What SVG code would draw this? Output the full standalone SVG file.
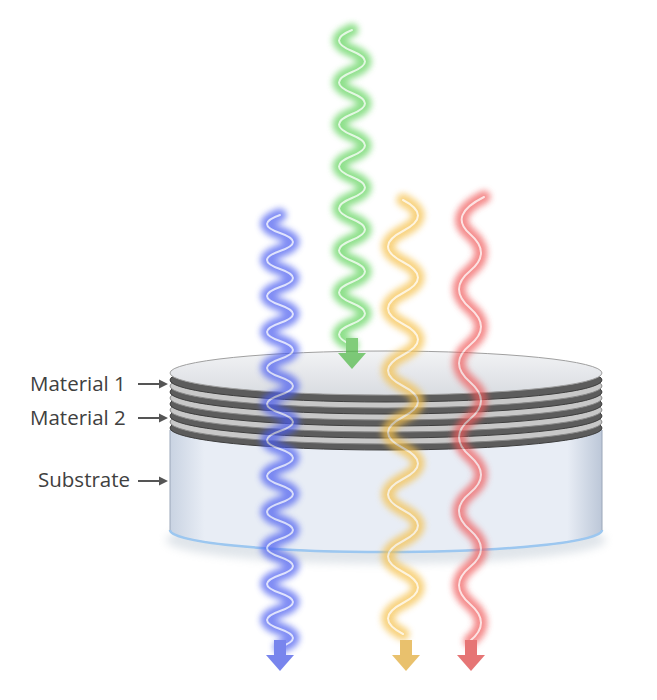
<svg xmlns="http://www.w3.org/2000/svg" width="657" height="700" viewBox="0 0 657 700">
<defs>
<filter id="blur" x="-50%" y="-10%" width="200%" height="120%"><feGaussianBlur stdDeviation="3"/></filter>
<filter id="sh" x="-10%" y="-30%" width="120%" height="160%"><feGaussianBlur stdDeviation="4"/></filter>
<linearGradient id="sub" x1="0" y1="0" x2="1" y2="0">
<stop offset="0" stop-color="#c9d3e2"/><stop offset="0.08" stop-color="#e8edf5"/><stop offset="0.92" stop-color="#e8edf5"/><stop offset="1" stop-color="#bcc7d8"/></linearGradient>
<linearGradient id="top" x1="0" y1="0" x2="0" y2="1"><stop offset="0" stop-color="#f2f3f5"/><stop offset="1" stop-color="#d9dce1"/></linearGradient>
<path id="ah" d="M-6 0h12v15h8l-14 16l-14-16h8z"/>
</defs>
<style>
.lbl{font-family:"Open Sans","Liberation Sans",sans-serif;font-size:20.5px;fill:#404040}
.ar{stroke:#555;stroke-width:2;fill:none}
.dk{fill:#5c5c5c;stroke:#3e3e3e;stroke-width:1}
.lt{fill:#c8c8c8;stroke:#8a8a8a;stroke-width:1}
.glow{fill:none;stroke-width:13;filter:url(#blur);stroke-linecap:round}
.core{fill:none;stroke:#fff;stroke-width:2;opacity:0.75;stroke-linecap:round}
</style>
<g id="disk">
<ellipse cx="386" cy="540" rx="220" ry="24" fill="#9ab" opacity="0.3" filter="url(#sh)"/>
<path d="M170 430V530A216 22 0 0 0 602 530V430Z" fill="url(#sub)" stroke="#9aa6b8" stroke-width="1"/>
<path d="M170 530A216 22 0 0 0 602 530" fill="none" stroke="#9cc7f0" stroke-width="2.5"/>
<ellipse cx="386" cy="428" rx="216" ry="22" class="dk"/>
<ellipse cx="386" cy="422" rx="216" ry="22" class="lt"/>
<ellipse cx="386" cy="416" rx="216" ry="22" class="dk"/>
<ellipse cx="386" cy="410" rx="216" ry="22" class="lt"/>
<ellipse cx="386" cy="404" rx="216" ry="22" class="dk"/>
<ellipse cx="386" cy="398" rx="216" ry="22" class="lt"/>
<ellipse cx="386" cy="392" rx="216" ry="22" class="dk"/>
<ellipse cx="386" cy="386" rx="216" ry="22" class="lt"/>
<ellipse cx="386" cy="380" rx="216" ry="22" class="dk"/>
<ellipse cx="386" cy="373" rx="216" ry="22" fill="url(#top)" stroke="#a0a0a0" stroke-width="1"/>
</g>
<g id="labels">
<text class="lbl" x="30" y="391">Material 1</text>
<text class="lbl" x="30" y="425">Material 2</text>
<text class="lbl" x="38" y="487">Substrate</text>
</g>
<g id="connectors">
<path class="ar" d="M138 384H160M138 418H160M138 481H160"/>
<path d="M168 384l-9-4.5v9zM168 418l-9-4.5v9zM168 481l-9-4.5v9z" fill="#555"/>
</g>
<g id="blue" opacity="0.7">
<path class="glow" stroke="#4a5cf0" d="M280 215 q-26 9 0 18 t0 18 t0 18 t0 18 t0 18 t0 18 t0 18 t0 18 t0 18 t0 18 t0 18 t0 18 t0 18 t0 18 t0 18 t0 18 t0 18 t0 18 t0 18 t0 18 t0 18 t0 18 t0 18 t0 18"/>
<path class="core" d="M280 215 q-26 9 0 18 t0 18 t0 18 t0 18 t0 18 t0 18 t0 18 t0 18 t0 18 t0 18 t0 18 t0 18 t0 18 t0 18 t0 18 t0 18 t0 18 t0 18 t0 18 t0 18 t0 18 t0 18 t0 18 t0 18"/>
<use href="#ah" x="280" y="640" fill="#3f52e6"/>
</g>
<g id="green" opacity="0.7">
<path class="glow" stroke="#5ed35a" d="M352 30 q-26 10.5 0 21 t0 21 t0 21 t0 21 t0 21 t0 21 t0 21 t0 21 t0 21 t0 21 t0 21 t0 21 t0 21 t0 21 t0 21"/>
<path class="core" d="M352 30 q-26 10.5 0 21 t0 21 t0 21 t0 21 t0 21 t0 21 t0 21 t0 21 t0 21 t0 21 t0 21 t0 21 t0 21 t0 21 t0 21"/>
<use href="#ah" x="352" y="338" fill="#4cb843"/>
</g>
<g id="yellow" opacity="0.7">
<path class="glow" stroke="#f5c04a" d="M403 200 q30 15.5 0 31 t0 31 t0 31 t0 31 t0 31 t0 31 t0 31 t0 31 t0 31 t0 31 t0 31 t0 31 t0 31 t0 31"/>
<path class="core" d="M403 200 q30 15.5 0 31 t0 31 t0 31 t0 31 t0 31 t0 31 t0 31 t0 31 t0 31 t0 31 t0 31 t0 31 t0 31 t0 31"/>
<use href="#ah" x="406" y="640" fill="#e0a830"/>
</g>
<g id="red" opacity="0.7">
<path class="glow" stroke="#f05a5a" d="M484 197 q-36 18 -14 37 t0 37 t0 37 t0 37 t0 37 t0 37 t0 37 t0 37 t0 37 t0 37 t0 37 t0 37"/>
<path class="core" d="M484 197 q-36 18 -14 37 t0 37 t0 37 t0 37 t0 37 t0 37 t0 37 t0 37 t0 37 t0 37 t0 37 t0 37"/>
<use href="#ah" x="471" y="640" fill="#dc3c3c"/>
</g>
</svg>
